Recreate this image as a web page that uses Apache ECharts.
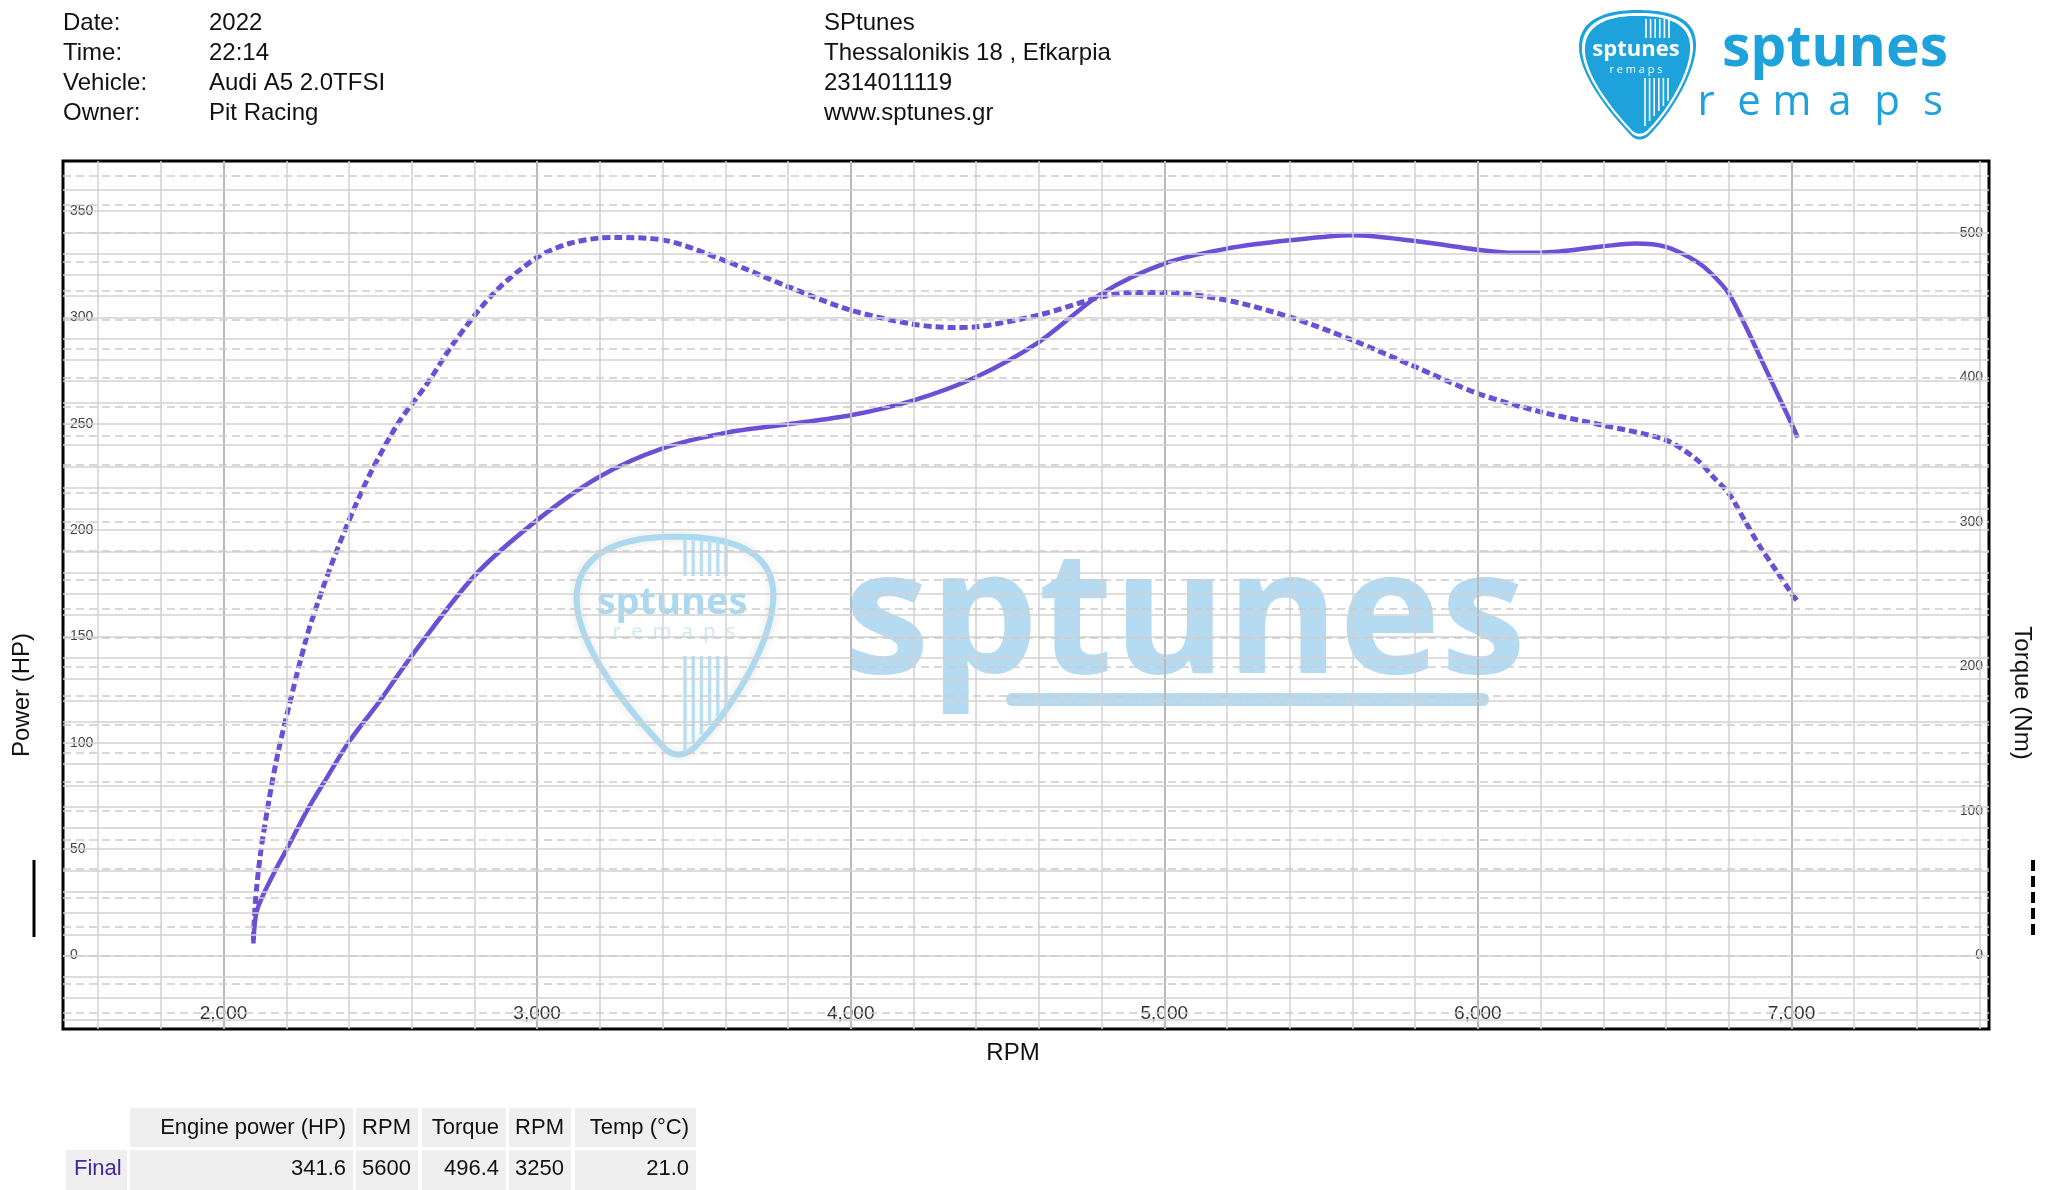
<!DOCTYPE html>
<html lang="en">
<head>
<meta charset="UTF-8">
<title>Dyno sheet</title>
<style>
  * { margin: 0; padding: 0; }
  body { background: #fff; overflow: hidden; }
  #chart { width: 2048px; height: 1190px; }
</style>
</head>
<body>
<div id="chart"></div>
<script src="https://cdn.jsdelivr.net/npm/echarts@6/dist/echarts.min.js"></script>
<script>
// power curve (HP, left axis)
var powerRpm = [2095, 2107, 2160, 2200, 2267, 2331, 2400, 2500, 2600, 2800, 3000, 3200, 3400, 3600, 3800,
  4000, 4200, 4400, 4600, 4800, 5000, 5200, 5400, 5600, 5800, 6000, 6100, 6200, 6400, 6500, 6600,
  6700, 6750, 6800, 6850, 6900, 6950, 7000, 7020];
var power = [5.7, 21.4, 38.6, 49.6, 68.4, 84, 100.5, 120, 140.9, 178.5, 204.7, 225.2, 238.4, 245.7, 249.8,
  254, 261, 272, 288.4, 311.2, 325.3, 332.3, 336.2, 338.6, 335.9, 331.8, 330.4, 330.4, 333.4, 334.7, 333.1,
  326, 319.8, 311.2, 297, 281.4, 265.7, 250.1, 243.5];

// torque curve (Nm, right axis)
var torqueRpm = [2095, 2102, 2118, 2145, 2171, 2203, 2266, 2317, 2363, 2414, 2471, 2557, 2648, 2739, 2864,
  3000, 3100, 3200, 3250, 3400, 3600, 3800, 4000, 4200, 4333, 4400, 4600, 4800, 4900, 5000, 5200,
  5400, 5600, 5800, 6000, 6200, 6400, 6600, 6700, 6750, 6800, 6850, 6900, 6950, 7000, 7020];
var torque = [10.7, 38.4, 70.7, 107.6, 137.6, 167.6, 221, 254.5, 281.3, 308.2, 335, 368.5, 395.4, 425.5, 459,
  483.3, 492.7, 496.7, 497, 495.4, 480.9, 463, 446.7, 437, 434.7, 435.2, 443.3, 456, 459, 459, 453.6,
  442, 426, 407.5, 389, 376.3, 367, 356.7, 342.9, 331.4, 319.9, 301.4, 282.9, 266.8, 250.7, 244.9];

var rpmLabels = [2000, 3000, 4000, 5000, 6000, 7000];
var powerLabels = [0, 50, 100, 150, 200, 250, 300, 350];
var torqueLabels = [0, 100, 200, 300, 400, 500];

var infoLabels = ['Date:', 'Time:', 'Vehicle:', 'Owner:'];
var infoValues = ['2022', '22:14', 'Audi A5 2.0TFSI', 'Pit Racing'];
var shopLines = ['SPtunes', 'Thessalonikis 18 , Efkarpia', '2314011119', 'www.sptunes.gr'];

var tableHead = ['Engine power (HP)', 'RPM', 'Torque', 'RPM', 'Temp (°C)'];
var tableFinal = ['341.6', '5600', '496.4', '3250', '21.0'];
var tableRowName = 'Final';

var FONT = '"Liberation Sans", Arial, sans-serif';
var LOGO_FONT = '"Open Sans", "Noto Sans", sans-serif';
var CURVE = '#6b4fd6';
var WM = '#b5dbf2';
var LOGO = '#1ea2dc';

var chart = echarts.init(document.getElementById('chart'));

function txt(x, y, s, size, opt) {
  opt = opt || {};
  return {
    type: 'text', x: x, y: y, rotation: opt.rotation || 0, z: opt.z == null ? 10 : opt.z, silent: true,
    style: {
      text: s, fill: opt.color || '#111',
      font: (opt.weight || 'normal') + ' ' + size + 'px ' + (opt.family || FONT),
      textAlign: opt.align || 'left', textVerticalAlign: opt.valign || 'middle'
    }
  };
}

// guitar-pick outline, in a 120 x 132 box, as cubic segments
var pickSegs = [
  [[60, 1], [92, 1], [119, 8], [119, 36]],
  [[119, 36], [119, 62], [96, 102], [72, 126]],
  [[72, 126], [66, 132], [58, 132], [53, 126]],
  [[53, 126], [28, 100], [1, 64], [1, 38]],
  [[1, 38], [1, 10], [28, 1], [60, 1]]
];
function pick(x, y, w, hgt) {
  var pts = [];
  pickSegs.forEach(function (s) {
    for (var i = 0; i < 24; i++) {
      var u = i / 24, a = (1 - u) * (1 - u) * (1 - u), b = 3 * u * (1 - u) * (1 - u), c = 3 * u * u * (1 - u), d = u * u * u;
      var px = a * s[0][0] + b * s[1][0] + c * s[2][0] + d * s[3][0];
      var py = a * s[0][1] + b * s[1][1] + c * s[2][1] + d * s[3][1];
      pts.push([x + px / 120 * w, y + py / 132 * hgt]);
    }
  });
  return pts;
}

// grid line positions
var rpmGrid = [], hpGrid = [], nmGrid = [];
for (var r = 1600; r <= 7600; r += 200) rpmGrid.push(r);
for (var h = -30; h <= 360; h += 10) hpGrid.push(h);
for (var t = -40; t <= 540; t += 20) nmGrid.push(t);

var solidGrid = rpmGrid.map(function (v) {
  var major = v % 1000 === 0;
  return { xAxis: v, lineStyle: { color: major ? '#b9b9b9' : '#d2d2d2', width: major ? 2 : 1.5, type: 'solid' } };
}).concat(hpGrid.map(function (v) {
  return { yAxis: v, lineStyle: { color: '#d2d2d2', width: 1.5, type: 'solid' } };
}));
var dashedGrid = nmGrid.map(function (v) {
  return { yAxis: v, lineStyle: { color: '#cbcbcb', width: 1.5, type: [8, 5] } };
});

function markLines(data) {
  return {
    silent: true, symbol: ['none', 'none'], animation: false,
    label: { show: false }, emphasis: { disabled: true }, data: data
  };
}

var graphics = [];

// header block
infoLabels.forEach(function (s, i) {
  graphics.push(txt(63, 23 + i * 30, s, 24));
  graphics.push(txt(209, 23 + i * 30, infoValues[i], 24));
  graphics.push(txt(824, 23 + i * 30, shopLines[i], 24));
});

// top-right logo
graphics.push({ type: 'polygon', z: 10, silent: true, shape: { points: pick(1578, 9, 119, 132) }, style: { fill: LOGO } });
graphics.push({ type: 'polygon', z: 10, silent: true, shape: { points: pick(1581, 12, 113, 126) }, style: { fill: '#fff' } });
graphics.push({ type: 'polygon', z: 10, silent: true, shape: { points: pick(1584, 15, 107, 120) }, style: { fill: LOGO } });
for (var k = 0; k < 6; k++) {
  graphics.push({ type: 'line', z: 11, silent: true, shape: { x1: 1646 + k * 4.6, y1: 19, x2: 1646 + k * 4.6, y2: 38 }, style: { stroke: '#fff', lineWidth: 1.6 } });
  graphics.push({ type: 'line', z: 11, silent: true, shape: { x1: 1645 + k * 4.6, y1: 78, x2: 1645 + k * 4.6, y2: 126 - k * 5 }, style: { stroke: '#fff', lineWidth: 1.6 } });
}
graphics.push(txt(1636, 50, 'sptunes', 22, { color: '#fff', weight: 'bold', family: LOGO_FONT, align: 'center', z: 12 }));
graphics.push(txt(1636, 70, 'r e m a p s', 11, { color: '#fff', family: LOGO_FONT, align: 'center', z: 12 }));
graphics.push(txt(1722, 50, 'sptunes', 57, { color: LOGO, weight: 'bold', family: LOGO_FONT }));
var remapX = [1706, 1749, 1792, 1840, 1887, 1933];
'remaps'.split('').forEach(function (c, i) {
  graphics.push(txt(remapX[i], 103, c, 42, { color: LOGO, family: LOGO_FONT, align: 'center' }));
});

// watermark (behind grid)
graphics.push({ type: 'polygon', z: 0, silent: true, shape: { points: pick(575, 535, 200, 222) },
  style: { fill: 'none', stroke: '#abdaf0', lineWidth: 6, shadowBlur: 10, shadowColor: 'rgba(0,0,0,0.12)' } });
for (var m = 0; m < 6; m++) {
  graphics.push({ type: 'line', z: 0, silent: true, shape: { x1: 685 + m * 8.2, y1: 540, x2: 685 + m * 8.2, y2: 576 }, style: { stroke: '#b8e0f3', lineWidth: 3.5 } });
  graphics.push({ type: 'line', z: 0, silent: true, shape: { x1: 685 + m * 8.2, y1: 656, x2: 685 + m * 8.2, y2: 752 - m * 9 }, style: { stroke: '#b8e0f3', lineWidth: 3.5 } });
}
graphics.push(txt(672, 603, 'sptunes', 38, { color: '#a9d8f0', weight: 'bold', family: LOGO_FONT, align: 'center', z: 0 }));
graphics.push(txt(674, 632, 'r  e  m  a  p  s', 20, { color: '#cce8f5', family: LOGO_FONT, align: 'center', z: 0 }));
graphics.push(txt(1185, 624, 'sptunes', 172, { color: WM, weight: 'bold', family: LOGO_FONT, align: 'center', z: 0 }));
graphics.push({ type: 'rect', z: 0, silent: true, shape: { x: 1006, y: 693, width: 483, height: 13, r: 6 }, style: { fill: WM } });

// axis names and line-style keys
graphics.push(txt(22, 695, 'Power (HP)', 24, { rotation: Math.PI / 2, align: 'center' }));
graphics.push(txt(2022, 693, 'Torque (Nm)', 24, { rotation: -Math.PI / 2, align: 'center' }));
graphics.push(txt(1013, 1053, 'RPM', 24, { align: 'center' }));
graphics.push({ type: 'line', z: 10, silent: true, shape: { x1: 34, y1: 860, x2: 34, y2: 937 }, style: { stroke: '#000', lineWidth: 3 } });
graphics.push({ type: 'line', z: 10, silent: true, shape: { x1: 2033, y1: 860, x2: 2033, y2: 937 }, style: { stroke: '#000', lineWidth: 4, lineDash: [11, 5] } });

// results table
var headCells = [[130, 353], [356, 418], [422, 506], [509, 571], [575, 696]];
graphics.push({ type: 'rect', z: 10, silent: true, shape: { x: 66, y: 1150, width: 61, height: 40 }, style: { fill: '#efefef' } });
graphics.push(txt(74, 1169, tableRowName, 22, { color: '#4527a0' }));
headCells.forEach(function (c, i) {
  graphics.push({ type: 'rect', z: 10, silent: true, shape: { x: c[0], y: 1108, width: c[1] - c[0], height: 39 }, style: { fill: '#efefef' } });
  graphics.push({ type: 'rect', z: 10, silent: true, shape: { x: c[0], y: 1150, width: c[1] - c[0], height: 40 }, style: { fill: '#efefef' } });
  graphics.push(txt(c[1] - 7, 1128, tableHead[i], 22, { align: 'right', z: 11 }));
  graphics.push(txt(c[1] - 7, 1169, tableFinal[i], 22, { align: 'right', z: 11 }));
});

var option = {
  animation: false,
  backgroundColor: '#fff',
  textStyle: { fontFamily: FONT },
  grid: { left: 63, right: 59, top: 161, bottom: 161, show: true, borderColor: '#000', borderWidth: 3, backgroundColor: 'transparent' },
  xAxis: {
    type: 'value', min: 1488, max: 7630,
    axisLine: { show: false }, axisTick: { show: false }, splitLine: { show: false },
    axisLabel: {
      inside: true, customValues: rpmLabels, margin: 6, fontSize: 19, color: '#333',
      formatter: function (v) { return v.toLocaleString('en-US'); }
    }
  },
  yAxis: [{
    type: 'value', min: -34.5, max: 373.5, position: 'left',
    axisLine: { show: false }, axisTick: { show: false }, splitLine: { show: false },
    axisLabel: { inside: true, customValues: powerLabels, margin: 7, fontSize: 14, color: '#444' }
  }, {
    type: 'value', min: -51, max: 550, position: 'right',
    axisLine: { show: false }, axisTick: { show: false }, splitLine: { show: false },
    axisLabel: { inside: true, customValues: torqueLabels, margin: 6, fontSize: 14, color: '#444' }
  }],
  graphic: { elements: graphics },
  series: [{
    type: 'line', data: [], yAxisIndex: 0, z: 1, silent: true, markLine: markLines(solidGrid)
  }, {
    type: 'line', data: [], yAxisIndex: 1, z: 1, silent: true, markLine: markLines(dashedGrid)
  }, {
    name: 'Power', type: 'line', yAxisIndex: 0, z: 3, smooth: 0.3, showSymbol: false,
    data: powerRpm.map(function (r, i) { return [r, power[i]]; }),
    lineStyle: { color: CURVE, width: 4.5 }
  }, {
    name: 'Torque', type: 'line', yAxisIndex: 1, z: 3, smooth: 0.3, showSymbol: false,
    data: torqueRpm.map(function (r, i) { return [r, torque[i]]; }),
    lineStyle: { color: CURVE, width: 5, type: [8, 4], cap: 'butt' }
  }]
};

chart.setOption(option);
</script>
</body>
</html>
